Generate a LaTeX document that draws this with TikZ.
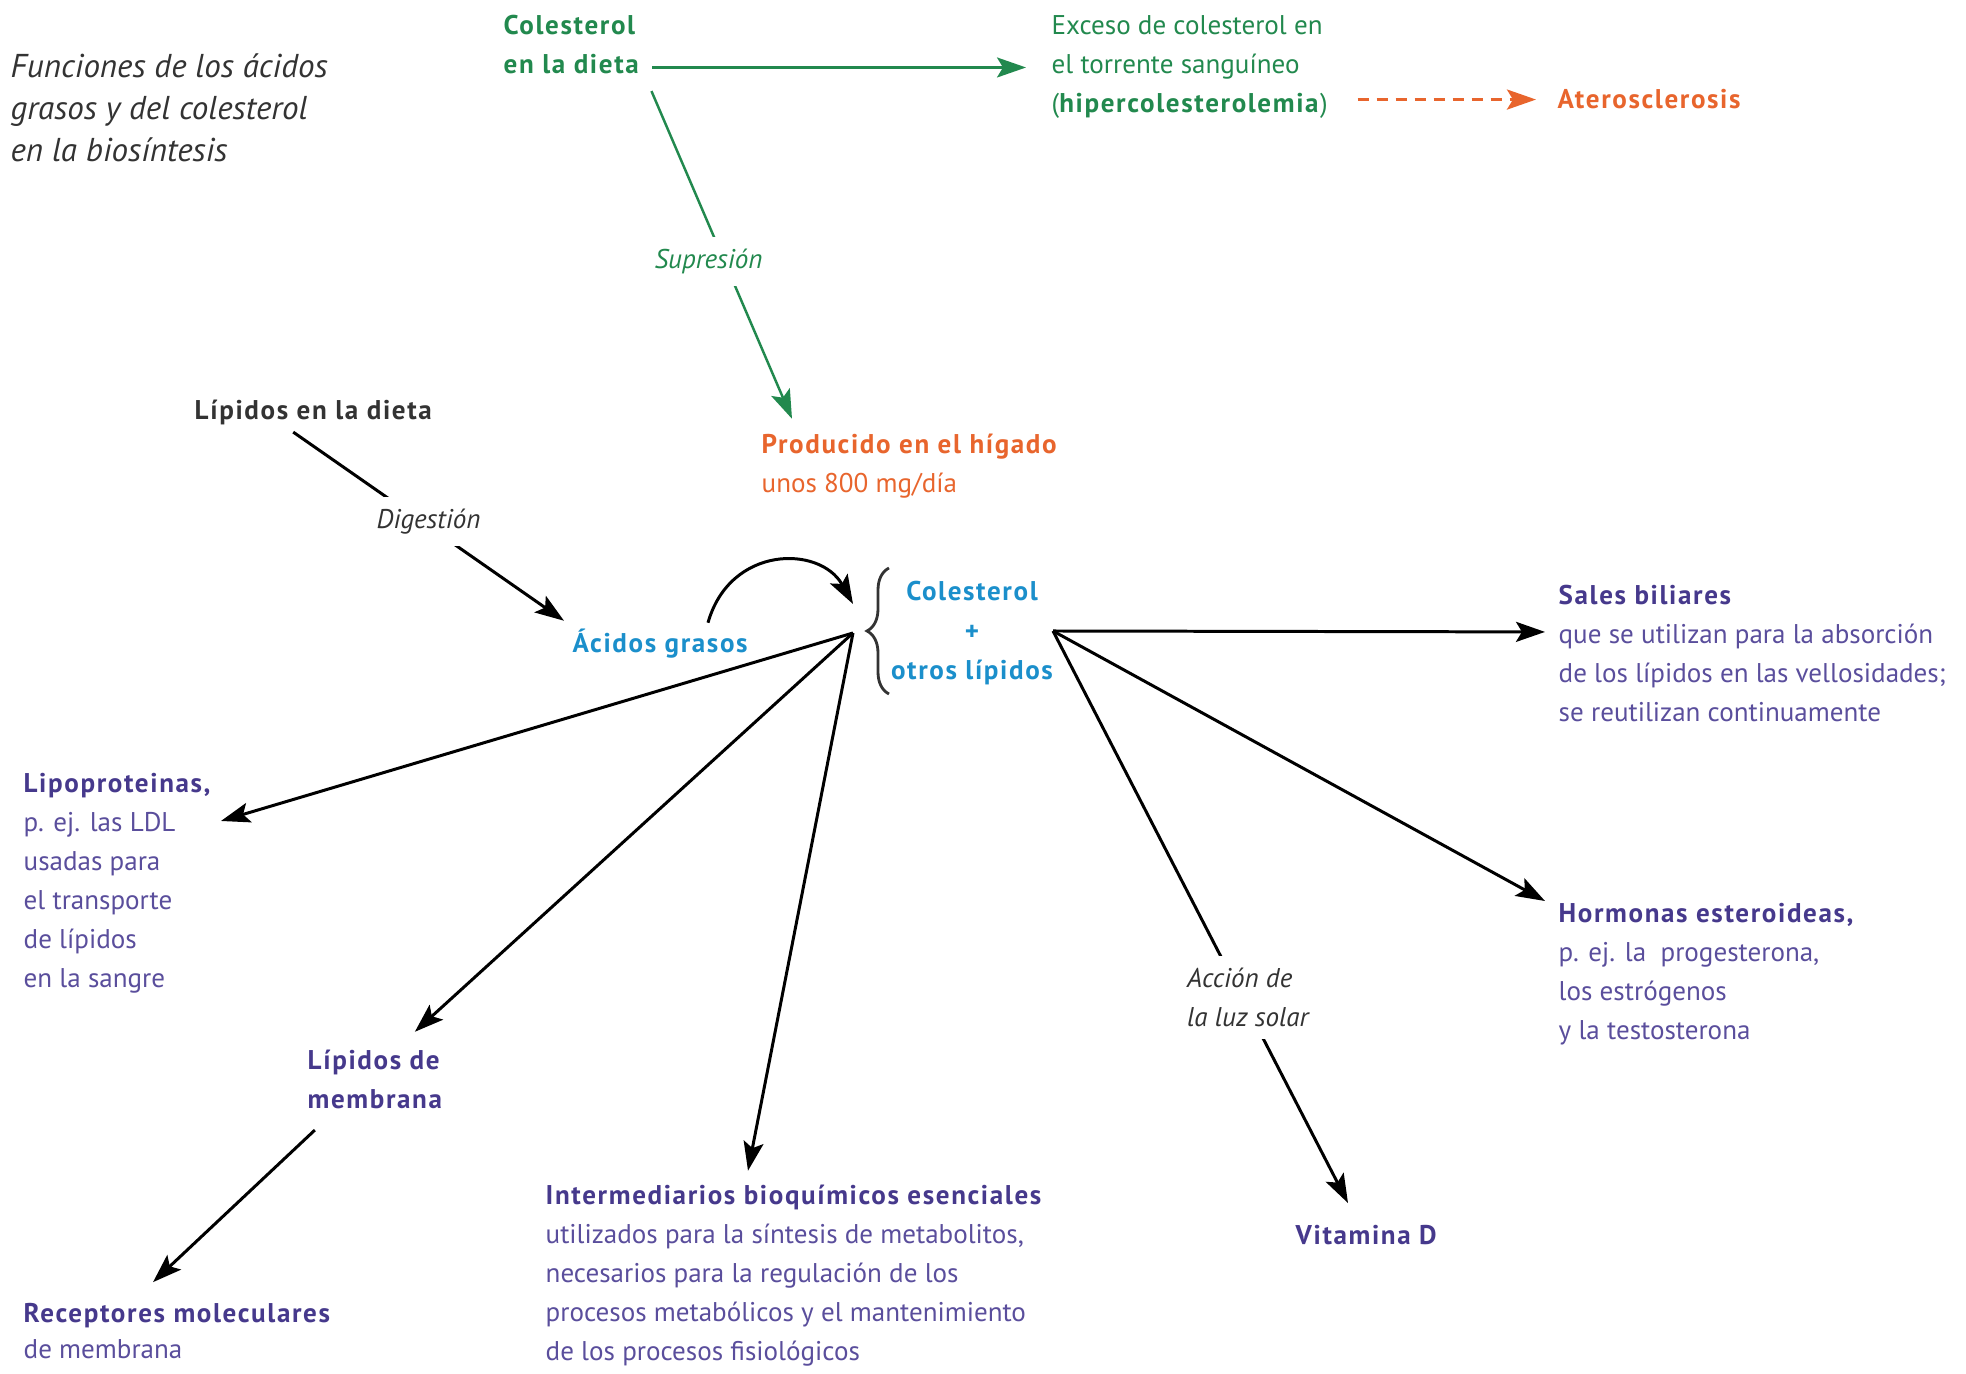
\documentclass[tikz,border=0pt]{standalone}
\usepackage{fontspec}
\setmainfont{PT Sans}[BoldFeatures={LetterSpace=6}]
\usetikzlibrary{arrows.meta,decorations.pathreplacing}
\definecolor{verde}{HTML}{22894E}
\definecolor{naranja}{HTML}{E8652D}
\definecolor{azul}{HTML}{1B8FCB}
\definecolor{morado}{HTML}{46398C}
\definecolor{moradoclaro}{HTML}{5A4E9C}
\definecolor{gris}{HTML}{333333}

\begin{document}
\begin{tikzpicture}[x=0.1mm, y=-0.1mm,
    txt/.style={inner sep=0pt, anchor=base west, align=left, font=\fontsize{7.7}{11.1}\selectfont},
    negrita/.style={font=\fontsize{7.7}{11.1}\selectfont\bfseries},
    flecha/.style={-{Stealth[length=2.9mm,width=2mm,inset=0.6mm]}, line width=0.85pt},
    etiq/.style={fill=white, inner sep=1.2mm, font=\fontsize{7.7}{11.1}\selectfont\itshape}]
  \useasboundingbox (0,0) rectangle (1966,1374);

  % Title (base = last line)
  \node[txt, gris, font=\fontsize{9.4}{12}\selectfont\itshape] (titulo) at (10,162)
    {Funciones de los ácidos\\grasos y del colesterol\\en la biosíntesis};

  % Upper part
  \node[txt, negrita, verde] (dieta) at (503,74) {Colesterol\\en la dieta};
  \node[txt, verde] (exceso) at (1051,113)
    {Exceso de colesterol en\\el torrente sanguíneo\\(\textbf{hipercolesterolemia})};
  \node[txt, negrita, naranja] (atero) at (1557,109) {Aterosclerosis};
  \node[txt, naranja] (higado) at (761,493) {\textbf{Producido en el hígado}\\unos 800 mg/día};

  \draw[flecha, verde, line width=0.7pt, shorten <=1.3mm, shorten >=2.5mm]
    (dieta.east |- exceso.west) -- (exceso.west);
  \draw[flecha, naranja, line width=0.9pt, dash pattern=on 1.1mm off 0.8mm, shorten <=2.9mm, shorten >=2.1mm]
    (exceso.east |- atero.west) -- (atero.west);
  \draw[flecha, verde, line width=0.7pt] ([shift={(12,16)}]dieta.south east)
    -- node[etiq, text=verde, pos=0.52, xshift=-1.6mm] {Supresión} ([shift={(31,-15)}]higado.north west);

  % Fatty acids
  \node[txt, negrita, gris] (ldieta) at (194,420) {Lípidos en la dieta};
  \node[txt, negrita, azul] (acidos) at (572,653) {Ácidos grasos};
  \draw[flecha] ([shift={(-20,6)}]ldieta.south)
    -- node[etiq, text=gris, yshift=0.5mm] {Digestión} ([shift={(-8,-8)}]acidos.north west);

  % Cholesterol + other lipids
  \node[txt, azul, anchor=base, align=center, font=\fontsize{7.7}{11.3}\selectfont\bfseries] (colest) at (972,680)
    {Colesterol\\+\\otros lípidos};
  \draw[decorate, decoration={brace, amplitude=2.2mm}, line width=0.8pt, gris]
    (889,694) -- (889,568);
  \coordinate (hubL) at (853,633);
  \coordinate (hubR) at (1053,631);
  \draw[flecha] ([shift={(136,-6)}]acidos.north west) .. controls (730,545) and (820,545) .. ([shift={(0,-29)}]hubL);

  % Products, left side
  \node[txt, moradoclaro] (lipo) at (23,988)
    {\textcolor{morado}{\textbf{Lipoproteinas,}}\\p. ej. las LDL\\usadas para\\el transporte\\de lípidos\\en la sangre};
  \node[txt, negrita, morado] (membrana) at (307,1109) {Lípidos de\\membrana};
  \node[txt, moradoclaro, font=\fontsize{7.7}{10.5}\selectfont] (receptores) at (23,1359)
    {\textcolor{morado}{\textbf{Receptores moleculares}}\\de membrana};
  \node[txt, moradoclaro] (intermed) at (545,1361)
    {\textcolor{morado}{\textbf{Intermediarios bioquímicos esenciales}}\\utilizados para la síntesis de metabolitos,\\necesarios para la regulación de los\\procesos metabólicos y el mantenimiento\\de los procesos fisiológicos};

  \draw[flecha] (hubL) -- ([shift={(198,48)}]lipo.north west);
  \draw[flecha] (hubL) -- ([shift={(40,-18)}]membrana.north);
  \draw[flecha] (hubL) -- ([shift={(203,-14)}]intermed.north west);
  \draw[flecha] ([shift={(-60,20)}]membrana.south) -- ([shift={(130,-20)}]receptores.north west);

  % Products, right side
  \node[txt, moradoclaro] (sales) at (1558,722)
    {\textcolor{morado}{\textbf{Sales biliares}}\\que se utilizan para la absorción\\de los lípidos en las vellosidades;\\se reutilizan continuamente};
  \node[txt, moradoclaro] (hormonas) at (1558,1040)
    {\textcolor{morado}{\textbf{Hormonas esteroideas,}}\\p. ej. la\ \ progesterona,\\los estrógenos\\y la testosterona};
  \node[txt, negrita, morado] (vitd) at (1295,1245) {Vitamina D};

  \draw[flecha] (hubR) -- ([shift={(-13,47)}]sales.north west);
  \draw[flecha] (hubR) -- ([shift={(-13,-2)}]hormonas.north west);
  \draw[flecha] (hubR) -- node[etiq, text=gris, pos=0.64, align=left, xshift=0.6mm] {Acción de\\la luz solar}
    ([shift={(53,-22)}]vitd.north west);
\end{tikzpicture}
\end{document}
